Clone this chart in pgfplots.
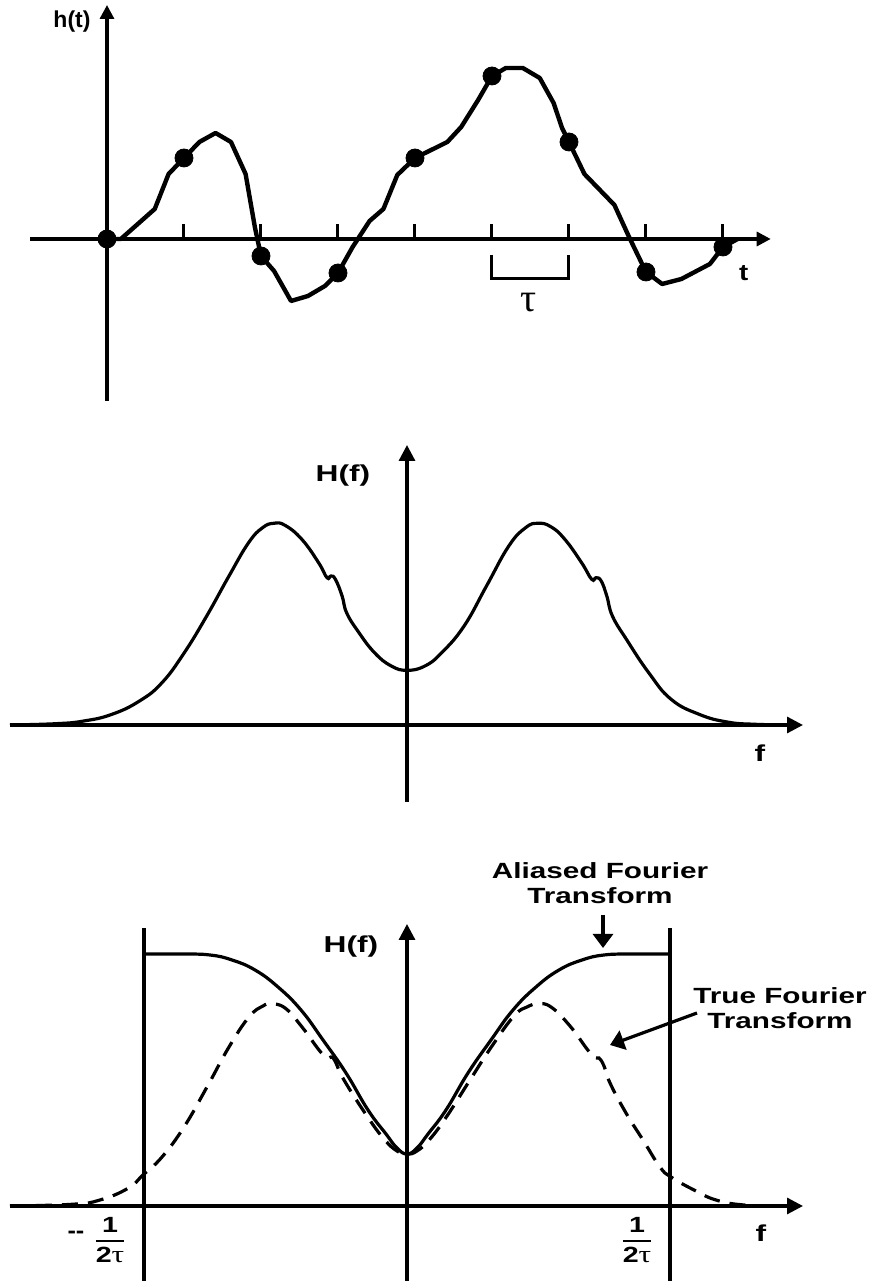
\documentclass[border=0pt]{standalone}
\usepackage{fontspec}
\setmainfont{Liberation Sans}
\newfontfamily\serif{Liberation Serif}
\usepackage{graphicx}
\usepackage{pgfplots}
\pgfplotsset{compat=1.18}
\usetikzlibrary{arrows.meta}
\newcommand\lab[2][1.38]{\scalebox{#1}[1]{\fontsize{11.5pt}{13.8pt}\selectfont\bfseries #2}}
\newcommand\frc{\scalebox{1.3}[1]{$\displaystyle{\mbox{\fontsize{11pt}{12pt}\selectfont\bfseries 1}\above 1pt\mbox{\fontsize{11pt}{12pt}\selectfont\bfseries 2{\fontsize{12pt}{12pt}\selectfont\serif\mdseries τ}}}$}}
\pgfplotsset{
  sk/.style={axis lines=middle, clip=false, xtick=\empty, ytick=\empty,
    enlargelimits=false, scale only axis, anchor=south west,
    axis line style={line width=1.6pt},
    every inner x axis line/.append style={-{Triangle[length=8pt,width=8pt]}},
    every inner y axis line/.append style={-{Triangle[length=8pt,width=8pt]}}},
}
\begin{document}
\begin{tikzpicture}
\useasboundingbox (0,0) rectangle (436.5pt,640.5pt);
% ---------- panel 1 ----------
\begin{axis}[sk, at={(15pt,440pt)}, x=38.5pt, y=0.5pt,
  xmin=-1, xmax=8.62, ymin=-162, ymax=234,
  every inner x axis line/.append style={-{Triangle[length=7pt,width=7pt]}},
  every inner y axis line/.append style={-{Triangle[length=7pt,width=7pt]}}]
\addplot[ycomb, line width=1.5pt, no marks] coordinates {(1,15) (2,15) (3,15) (4,15) (5,15) (6,15) (7,15) (8,15)};
\addplot[line width=2.2pt, line join=round, no marks] coordinates {
(0,0) (0.18,0) (0.62,30) (0.80,65) (1.0,81) (1.20,97) (1.41,106) (1.61,97)
(1.80,65) (1.92,12) (2.0,-17) (2.17,-32) (2.39,-62) (2.61,-57) (2.83,-47)
(3.0,-34) (3.19,-8) (3.41,18) (3.59,30) (3.77,64) (4.0,81) (4.42,97)
(4.60,112) (4.82,139) (5.0,163) (5.18,171) (5.40,171) (5.62,161) (5.80,136)
(5.91,111) (6.0,97) (6.20,65) (6.59,34) (6.78,2) (7.0,-33) (7.21,-45)
(7.46,-40) (7.83,-25) (8.0,-8) (8.19,0)};
\addplot[only marks, mark=*, mark size=4.5pt] coordinates {
(0,0) (1,81) (2,-17) (3,-34) (4,81) (5,163) (6,97) (7,-33) (8,-8)};
\addplot[line width=1.5pt, no marks] coordinates {(5,-16) (5,-40) (6,-40) (6,-16)};
\node at (axis cs:-0.455,217) {\lab[1]{h(t)}};
\node at (axis cs:8.27,-34) {\lab[1.2]{t}};
\node at (axis cs:5.48,-64) {\fontsize{20pt}{22pt}\selectfont\serif τ};
\end{axis}
% ---------- panel 2 ----------
\begin{axis}[sk, at={(5pt,239.5pt)}, x=0.5pt, y=0.5pt,
  xmin=-397, xmax=396, ymin=-77, ymax=280]
\addplot[line width=1.6pt, smooth, tension=0.75, no marks] coordinates {
(-397,0) (-351,1.3) (-323,4) (-295,10.7) (-267.5,24) (-245,42.3) (-222.7,72.3)
(-200.3,109) (-178,149) (-158.4,182.3) (-144.4,197.3) (-133.2,201.7) (-122,199.7)
(-105.2,185.7) (-88.4,162.3) (-80,147.3) (-76.1,149) (-71.6,145.7) (-64.9,129)
(-60.4,112.3) (-49.2,94) (-32.5,72.3) (-15.7,59) (0,54.7) (17.9,59) (34.7,72.3)
(57.1,99) (79.5,139) (101.8,179) (118.6,197.3) (130.9,201.7) (143.8,198.3)
(157.8,185.7) (174.6,162.3) (184.7,145.7) (189.1,147.3) (194.2,144) (199.8,129)
(205.4,109) (219.4,85.7) (241.7,52.3) (264.1,25.7) (292.1,10.7) (320.1,3)
(348.1,0.7) (387.2,0)};
\node at (axis cs:-64,249) {\lab{H(f)}};
\node at (axis cs:353,-28) {\lab{f}};
\end{axis}
% ---------- panel 3 ----------
\begin{axis}[sk, at={(5pt,0pt)}, x=0.5pt, y=0.5pt,
  xmin=-397, xmax=396, ymin=-75, ymax=282]
\addplot[line width=1.6pt, smooth, tension=0.75, no marks, dash pattern=on 8pt off 5pt] coordinates {
(-397,0) (-335,1.7) (-307,6) (-279,17.7) (-264,31) (-245,49) (-223,79) (-200,119)
(-178,159) (-158,189) (-144,200) (-136,202) (-122,198) (-105,179) (-88,156)
(-80,148) (-76,149) (-72,145) (-63,126) (-40,90) (-23,67) (-10,55) (0,52)
(10,55) (23,67) (40,90) (63,126) (85,160) (107,190) (120,199) (131,202)
(144,199) (163,180) (180,157) (188,148) (192,148) (197,140) (203,123) (219,93)
(236,66) (253,39) (264,29) (287,16) (309,6) (337,1) (376,0)};
\addplot[line width=1.6pt, smooth, tension=0.75, no marks] coordinates {
(-263,252) (-225,252) (-197,251) (-175,246) (-152,236) (-129,219) (-106,196)
(-84,166) (-61,133) (-39,96) (-21,72) (-10,58) (0,52) (10,58) (21,72) (39,96)
(61,133) (84,166) (106,196) (129,219) (152,236) (175,246) (197,251) (225,252)
(263,252)};
\addplot[line width=2pt, no marks] coordinates {(-263,-75) (-263,278)};
\addplot[line width=2pt, no marks] coordinates {(263,-75) (263,278)};
\node at (axis cs:-56,259) {\lab{H(f)}};
\node at (axis cs:354,-27) {\lab{f}};
\node at (axis cs:193,320) {\scalebox{1.35}[1]{\fontsize{11pt}{12.5pt}\selectfont\bfseries
  \begin{tabular}{@{}c@{}}Aliased Fourier\\Transform\end{tabular}}};
\node at (axis cs:373,195) {\scalebox{1.35}[1]{\fontsize{11pt}{12.5pt}\selectfont\bfseries
  \begin{tabular}{@{}c@{}}True Fourier\\Transform\end{tabular}}};
\draw[line width=1.6pt, -{Triangle[length=7pt,width=10pt]}] (axis cs:196,291) -- (axis cs:196,258);
\draw[line width=1.6pt, -{Triangle[length=7pt,width=10pt]}] (axis cs:290,193) -- (axis cs:203,161);
\node at (axis cs:-331,-29) {\lab[1.1]{{-}{-}}};
\node at (axis cs:-297,-34) {\frc};
\node at (axis cs:230,-34) {\frc};
\end{axis}
\end{tikzpicture}
\end{document}
